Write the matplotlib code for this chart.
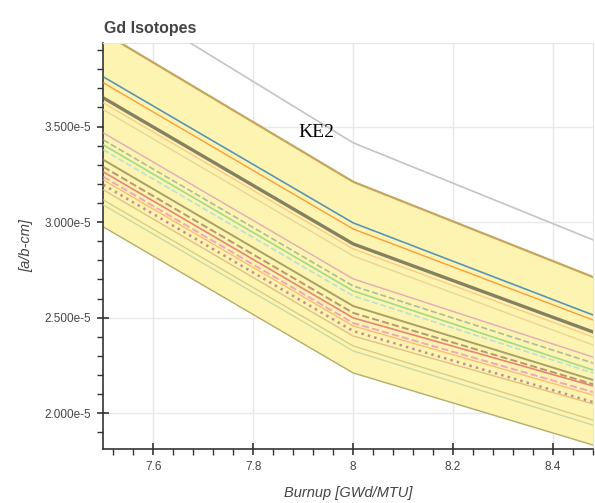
import matplotlib
matplotlib.use("Agg")
import matplotlib.pyplot as plt
from matplotlib.ticker import MultipleLocator
import numpy as np

plt.rcParams['font.family'] = ['Liberation Sans', 'DejaVu Sans']

burnup = [7.5, 8.0, 8.5]

# envelope of all cases, units of 1e-5 a/b-cm
band_top = [3.991, 3.211, 2.692]
band_bottom = [2.975, 2.211, 1.818]
ke2 = [4.216, 3.415, 2.886]

# individual cases inside the envelope
iso_lines = [
    [3.760, 2.996, 2.494],
    [3.729, 2.964, 2.468],
    [3.650, 2.886, 2.406],
    [3.624, 2.860, 2.380],
    [3.588, 2.823, 2.338],
    [3.467, 2.703, 2.277],
    [3.430, 2.666, 2.246],
    [3.404, 2.640, 2.209],
    [3.378, 2.614, 2.194],
    [3.326, 2.561, 2.158],
    [3.289, 2.525, 2.137],
    [3.263, 2.499, 2.128],
    [3.237, 2.472, 2.096],
    [3.221, 2.457, 2.080],
    [3.195, 2.430, 2.043],
    [3.169, 2.404, 2.034],
    [3.116, 2.352, 1.948],
    [3.090, 2.326, 1.922],
]
iso_colors = ['#1f77b4', '#ff7f0e', '#5c5a45', '#ffbb78', '#e6c98a', '#d990b8',
              '#8fa894', '#7fd47a', '#9edae5', '#8a8550', '#a0785a', '#e06060',
              '#e58fc4', '#ffa860', '#b06d80', '#d8b070', '#c8c07a', '#b8d0a0']
iso_widths = [1.2, 1.0, 2.4, 1.0, 1.0, 1.0, 1.2, 1.2, 1.2, 1.4, 1.4, 1.2,
              1.4, 1.0, 1.8, 1.0, 1.0, 1.0]
iso_styles = ['-', '-', '-', '-', '-', '-', '--', '-', '--', '-', '--', '-',
              '--', '-', ':', '-', '-', '-']

xticks = [7.6, 7.8, 8.0, 8.2, 8.4]
xtick_labels = ['7.6', '7.8', '8', '8.2', '8.4']
yticks = [2.0e-5, 2.5e-5, 3.0e-5, 3.5e-5]
ytick_labels = ['2.000e-5', '2.500e-5', '3.000e-5', '3.500e-5']

scale = 1e-5

fig = plt.figure(figsize=(5.95, 5.03), dpi=100)
ax = fig.add_axes([103.3 / 595, 1 - 449 / 503, (593 - 103.3) / 595, (449 - 43) / 503])

ax.fill_between(burnup, np.array(band_bottom) * scale, np.array(band_top) * scale,
                color='#fef4b2', lw=0, zorder=1)
ax.plot(burnup, np.array(band_top) * scale, color='#c4a55a', lw=1.6, zorder=2)
ax.plot(burnup, np.array(band_bottom) * scale, color='#b5ad6a', lw=1.0, zorder=2)

for vals, c, w, s in zip(iso_lines, iso_colors, iso_widths, iso_styles):
    ax.plot(burnup, np.array(vals) * scale, color=c, lw=w, ls=s, alpha=0.75, zorder=3)

ax.plot(burnup, np.array(ke2) * scale, color='#c4c4c4', lw=1.2, zorder=3)
ax.text(7.927, 3.467e-5, 'KE2', family='Liberation Serif', fontsize=14,
        color='black', ha='center', va='center', zorder=5)

ax.set_xlim(7.5, 8.48)
ax.set_ylim(1.813e-5, 3.937e-5)

ax.set_xticks(xticks)
ax.set_xticklabels(xtick_labels)
ax.set_yticks(yticks)
ax.set_yticklabels(ytick_labels)
ax.xaxis.set_minor_locator(MultipleLocator(0.04))
ax.yaxis.set_minor_locator(MultipleLocator(0.1e-5))

ax.tick_params(which='major', direction='inout', length=8, width=1.2,
               color='#333333', labelsize=8.5, labelcolor='#444444', pad=5)
ax.tick_params(which='minor', direction='out', length=4, width=1.0, color='#333333')

ax.grid(True, which='major', color='#e8e8e8', lw=1)
ax.set_axisbelow(True)

for side in ['top', 'right']:
    ax.spines[side].set_color('#e5e5e5')
for side in ['left', 'bottom']:
    ax.spines[side].set_color('#333333')
    ax.spines[side].set_linewidth(1.2)

fig.text(104 / 595, 1 - 33 / 503, 'Gd Isotopes', fontsize=11.5, fontweight='bold',
         color='#444444', ha='left', va='baseline')
fig.text(348 / 595, 1 - 493 / 503, 'Burnup [GWd/MTU]', fontsize=10.5, style='italic',
         color='#444444', ha='center', va='center')
fig.text(26 / 595, 1 - 246 / 503, '[a/b-cm]', fontsize=10.5, style='italic',
         color='#444444', ha='center', va='center', rotation=90)

fig.savefig('out.png', dpi=100, facecolor='white')
